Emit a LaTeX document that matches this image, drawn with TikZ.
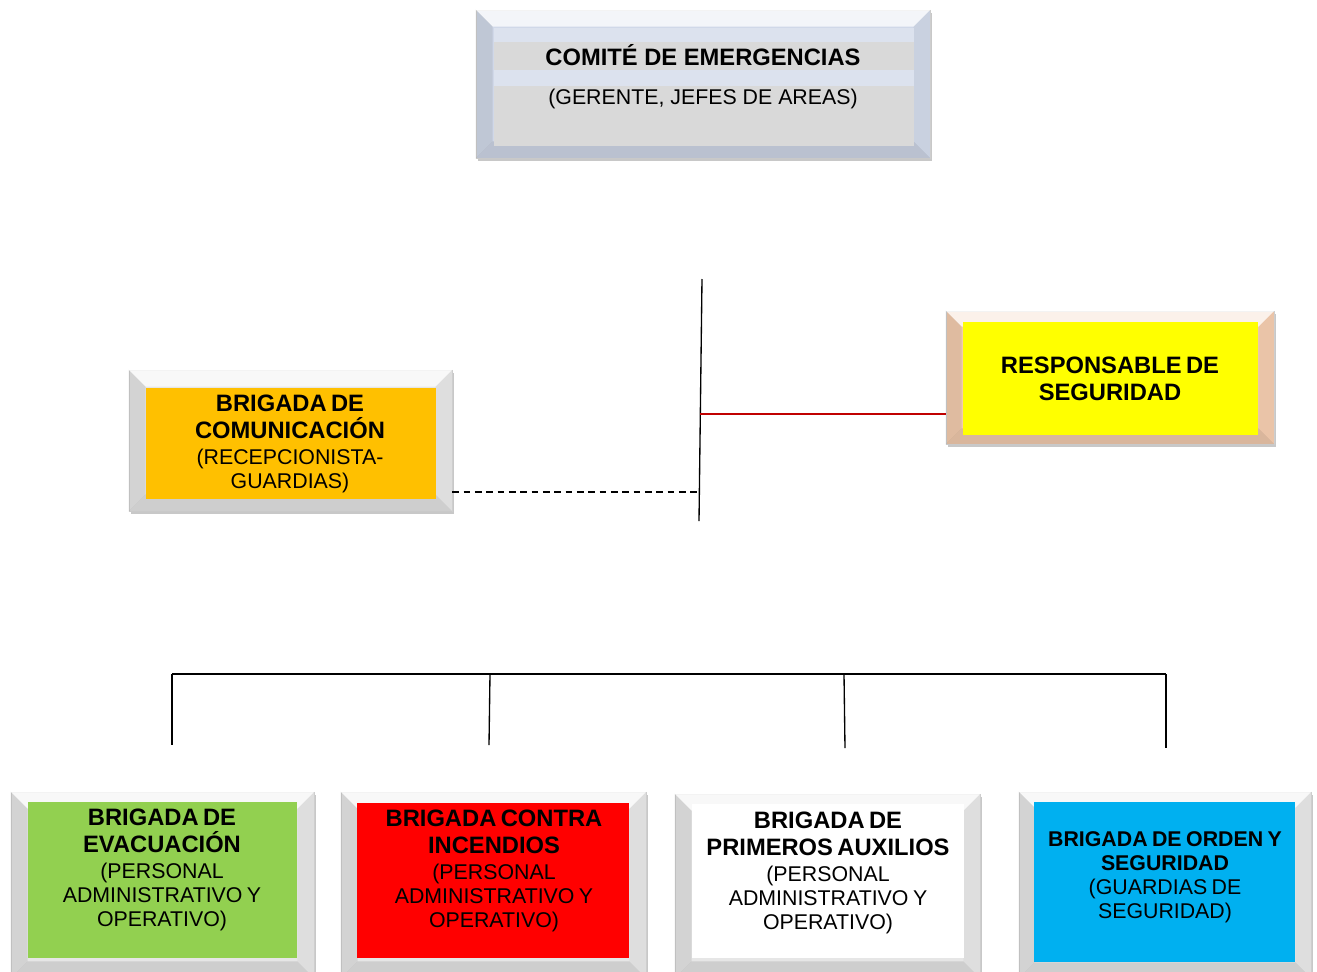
\documentclass[tikz,border=0pt]{standalone}
\usepackage{fontspec}
\setmainfont{Liberation Sans}
\usetikzlibrary{calc,fit,shadows}
\newcommand\hb{\fontsize{17.8}{20.25}\selectfont\bfseries}
\newcommand\hbs{\fontsize{16}{18}\selectfont\bfseries}
\newcommand\hn{\fontsize{16}{18}\selectfont\mdseries}
\definecolor{topbev}{HTML}{D0D8E8}
\definecolor{topin}{HTML}{DCE2EE}
\definecolor{band}{HTML}{D9D9D9}
\definecolor{graybev}{HTML}{E6E6E6}
\definecolor{peach}{HTML}{F2CBAE}
\definecolor{orangef}{HTML}{FFC000}
\definecolor{yellowf}{HTML}{FFFF00}
\definecolor{greenf}{HTML}{92D050}
\definecolor{redf}{HTML}{FF0000}
\definecolor{bluef}{HTML}{00B0F0}
\definecolor{redline}{HTML}{C00000}
\newcommand\bevelfaces[2]{%
 \fill[white,opacity=0.75] (#1.north west) -- (#1.north east) -- ($(#1.north east)+(-#2,#2)$) -- ($(#1.north west)+(#2,#2)$) -- cycle;
 \fill[black,opacity=0.08] (#1.north west) -- ($(#1.north west)+(#2,#2)$) -- ($(#1.south west)+(#2,-#2)$) -- (#1.south west) -- cycle;
 \fill[black,opacity=0.03] (#1.north east) -- ($(#1.north east)+(-#2,#2)$) -- ($(#1.south east)+(-#2,-#2)$) -- (#1.south east) -- cycle;
 \fill[black,opacity=0.10] (#1.south west) -- ($(#1.south west)+(#2,-#2)$) -- ($(#1.south east)+(-#2,-#2)$) -- (#1.south east) -- cycle;
}
\tikzset{
 outerbox/.style={inner sep=0pt, draw=black!18, line width=0.4pt,
   drop shadow={shadow xshift=1.5pt, shadow yshift=-2.5pt, opacity=0.3, fill=black!70}},
 innerbox/.style={inner sep=0pt},
 txt/.style={align=center, text width=220pt, inner sep=0pt},
 conn/.style={line width=1pt, black},
}
\begin{document}
\begin{tikzpicture}[x=0.75pt,y=-0.75pt]
\useasboundingbox (0,0) rectangle (1317,971);
\fill[white] (0,0) rectangle (1317,971);

% Comite
\node[outerbox, fill=topbev, fit={(476,10) (930,158)}] (comite) {};
\bevelfaces{comite}{17}
\node[innerbox, fill=topin, fit={(494,28) (914,146)}] (comitein) {};
\node[innerbox, fill=band, fit={(494,42) (914,70)}] (cband1) {};
\node[innerbox, fill=band, fit={(494,86) (914,146)}] (cband2) {};
\node[font=\hb, inner sep=0pt] (ctitle) at (703,55) {COMITÉ DE EMERGENCIAS};
\node[font=\hn, inner sep=0pt] (csub) at (703,99) {(GERENTE, JEFES DE AREAS)};

% Comunicacion
\node[outerbox, fill=graybev, fit={(129,370) (452,511)}] (com) {};
\bevelfaces{com}{17}
\node[innerbox, fill=orangef, fit={(146,388) (436,499)}] (comin) {};
\node[txt] (comt) at (290,444) {\hb BRIGADA DE\\COMUNICACIÓN\par\vspace{1.5pt}\hn (RECEPCIONISTA-\\GUARDIAS)\par};

% Responsable
\node[outerbox, fill=peach, fit={(946,311) (1274,444)}] (resp) {};
\bevelfaces{resp}{16}
\node[innerbox, fill=yellowf, fit={(963,322) (1258,435)}] (respin) {};
\node[txt] (respt) at (1110,378.5) {\hb RESPONSABLE DE\\SEGURIDAD\par};

% Bottom boxes
\node[outerbox, fill=graybev, fit={(11,792) (314,978)}] (evac) {};
\bevelfaces{evac}{17}
\node[innerbox, fill=greenf, fit={(28,802) (297,958)}] (evacin) {};
\node[txt] (evact) at (162,870) {\hb BRIGADA DE\\EVACUACIÓN\par\vspace{1.5pt}\hn (PERSONAL\\ADMINISTRATIVO Y\\OPERATIVO)\par};

\node[outerbox, fill=graybev, fit={(341,792) (646,978)}] (fuego) {};
\bevelfaces{fuego}{17}
\node[innerbox, fill=redf, fit={(357,803) (629,958)}] (fuegoin) {};
\node[txt] (fuegot) at (494,871) {\hb BRIGADA CONTRA\\INCENDIOS\par\vspace{1.5pt}\hn (PERSONAL\\ADMINISTRATIVO Y\\OPERATIVO)\par};

\node[outerbox, fill=graybev, fit={(675,794) (980,978)}] (aux) {};
\bevelfaces{aux}{17}
\node[innerbox, fill=white, fit={(692,804) (964,958)}] (auxin) {};
\node[txt] (auxt) at (828,873) {\hb BRIGADA DE\\PRIMEROS AUXILIOS\par\vspace{1.5pt}\hn (PERSONAL\\ADMINISTRATIVO Y\\OPERATIVO)\par};

\node[outerbox, fill=graybev, fit={(1019,792) (1311,978)}] (orden) {};
\bevelfaces{orden}{16}
\node[innerbox, fill=bluef, fit={(1034,802) (1295,962)}] (ordenin) {};
\node[txt] (ordent) at (1165,877.5) {\hbs BRIGADA DE ORDEN Y\\SEGURIDAD\par\hn (GUARDIAS DE\\SEGURIDAD)\par};

% Connectors
\coordinate (vt) at (702,279);
\coordinate (vb) at (699,521);
\coordinate (vr) at (700.3,414);
\coordinate (vd) at (698.5,492);
\draw[conn] (vt) -- (vb);
\draw[line width=1pt, redline] (vr) -- (vr -| resp.west);
\draw[conn, dash pattern=on 5pt off 3.5pt] (vd -| com.east) -- (vd);

\coordinate (b1) at (172,674);
\coordinate (b2) at (490,674);
\coordinate (b3) at (844,674);
\coordinate (b4) at (1166,674);
\coordinate (d1) at (172,745);
\coordinate (d2) at (489,745);
\coordinate (d3) at (845,748);
\coordinate (d4) at (1166,748);
\draw[conn] (b1) -- (b4);
\draw[conn] (b1) -- (d1);
\draw[conn] (b2) -- (d2);
\draw[conn] (b3) -- (d3);
\draw[conn] (b4) -- (d4);
\end{tikzpicture}
\end{document}
